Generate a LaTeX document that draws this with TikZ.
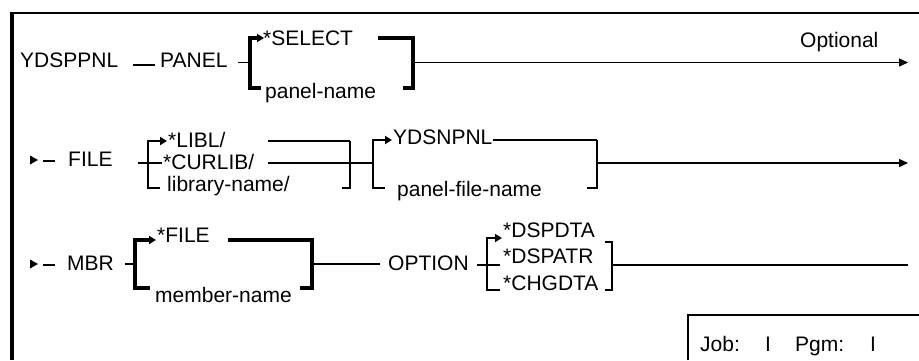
\documentclass[tikz,border=0pt]{standalone}
\usepackage{fontspec}
\setmainfont{Liberation Sans}
\usetikzlibrary{arrows.meta}
\begin{document}
\begin{tikzpicture}[x=1pt,y=-1pt,
  txt/.style={anchor=base west,inner sep=0pt,font=\fontsize{21}{25}\selectfont},
  ln/.style={line width=1.4pt},
  brk/.style={line width=3.4pt,line join=miter},
  brkm/.style={line width=2.3pt,line join=miter},
  tipend/.style={-{Triangle[length=9pt,width=8pt]}},
  smalltip/.style={-{Triangle[length=7pt,width=8pt]}}
  ]
\useasboundingbox (0,0) rectangle (919,360);
% frame
\draw[line width=1.5pt] (10,13) -- (919,13);
\draw[line width=3.6pt] (12,12) -- (12,360);

% ---------- row 1 ----------
\node[txt] (ydsppnl) at (20,67) {YDSPPNL};
\node[txt] (panel) at (160,67) {PANEL};
\node[txt] (select) at (263,45) {*SELECT};
\node[txt] (panelname) at (265,98) {panel-name};
\node[txt] (optional) at (800,47) {Optional};
\coordinate (d1a) at (133,65); \coordinate (d1b) at (155,65);
\draw[ln] (d1a) -- (d1b);
\coordinate (p1) at (238,62.5); \coordinate (l1m) at (250,62.5);
\draw[ln] (p1) -- (l1m);
\coordinate (l1b) at (261,88); \coordinate (l1bl) at (250,88);
\coordinate (l1tl) at (250,38); \coordinate (l1t) at (264,38);
\draw[brk,smalltip] (l1b) -- (l1bl) -- (l1tl) -- (l1t);
\coordinate (r1t) at (378,38); \coordinate (r1tr) at (413,38);
\coordinate (r1br) at (413,88); \coordinate (r1b) at (403,88);
\draw[brk] (r1t) -- (r1tr) -- (r1br) -- (r1b);
\coordinate (r1m) at (413,62.5); \coordinate (e1) at (908,62.5);
\draw[ln,tipend] (r1m) -- (e1);

% ---------- row 2 ----------
\coordinate (s2) at (30,160);
\fill (30,155.5) -- (38,160) -- (30,164.5) -- cycle;
\node[txt] (file) at (68,166) {FILE};
\coordinate (d2a) at (43,161); \coordinate (d2b) at (55,161);
\draw[ln] (d2a) -- (d2b);
\node[txt] (libl) at (168,147) {*LIBL/};
\node[txt] (curlib) at (163,169) {*CURLIB/};
\node[txt] (libname) at (167,191) {library-name/};
\coordinate (p2a) at (138,163); \coordinate (p2b) at (162,163);
\draw[ln] (p2a) -- (p2b);
\coordinate (l2b) at (160,188); \coordinate (l2bl) at (148,188);
\coordinate (l2tl) at (148,141); \coordinate (l2t) at (167,141);
\draw[brkm,smalltip] (l2b) -- (l2bl) -- (l2tl) -- (l2t);
\coordinate (a2) at (268,141); \coordinate (r2t) at (350,141);
\coordinate (b2) at (268,163); \coordinate (r2m) at (350,163);
\draw[ln] (a2) -- (r2t);
\draw[ln] (b2) -- (r2m);
\coordinate (r2br) at (350,188); \coordinate (r2b) at (342,188);
\draw[brkm] (r2t) -- (r2br) -- (r2b);
\coordinate (l3m) at (373,163);
\draw[ln] (r2m) -- (l3m);
\node[txt] (ydsnpnl) at (393,144) {YDSNPNL};
\node[txt] (pfname) at (397,196) {panel-file-name};
\coordinate (l3b) at (385,188); \coordinate (l3bl) at (373,188);
\coordinate (l3tl) at (373,140); \coordinate (l3t) at (392,140);
\draw[brkm,smalltip] (l3b) -- (l3bl) -- (l3tl) -- (l3t);
\coordinate (y3) at (493,140); \coordinate (r3t) at (597,140);
\coordinate (r3br) at (597,188); \coordinate (r3b) at (587,188);
\draw[ln] (y3) -- (r3t);
\draw[brkm] (r3t) -- (r3br) -- (r3b);
\coordinate (r3m) at (597,163); \coordinate (e2) at (908,163);
\draw[ln,tipend] (r3m) -- (e2);

% ---------- row 3 ----------
\fill (30,259.5) -- (38,264) -- (30,268.5) -- cycle;
\coordinate (d3a) at (43,265); \coordinate (d3b) at (55,265);
\draw[ln] (d3a) -- (d3b);
\node[txt] (mbr) at (67,270) {MBR};
\coordinate (p3a) at (125,264); \coordinate (l4m) at (135,264);
\draw[ln] (p3a) -- (l4m);
\node[txt] (sfile) at (157,242) {*FILE};
\node[txt] (mname) at (155,302) {member-name};
\coordinate (l4b) at (150,288); \coordinate (l4bl) at (135,288);
\coordinate (l4tl) at (135,240); \coordinate (l4t) at (156,240);
\draw[brk,smalltip] (l4b) -- (l4bl) -- (l4tl) -- (l4t);
\coordinate (f4) at (228,240); \coordinate (r4t) at (312,240);
\coordinate (r4br) at (312,288); \coordinate (r4b) at (300,288);
\draw[brk] (f4) -- (r4t) -- (r4br) -- (r4b);
\coordinate (r4m) at (312,264); \coordinate (o4) at (380,264);
\draw[ln] (r4m) -- (o4);
\node[txt] (option) at (388,270) {OPTION};
\node[txt] (dspdta) at (503,237) {*DSPDTA};
\node[txt] (dspatr) at (503,263) {*DSPATR};
\node[txt] (chgdta) at (503,290) {*CHGDTA};
\coordinate (p5a) at (477,265); \coordinate (p5b) at (500,265);
\draw[ln] (p5a) -- (p5b);
\coordinate (l5b) at (500,290); \coordinate (l5bl) at (487,290);
\coordinate (l5tl) at (487,238); \coordinate (l5t) at (502,238);
\draw[brkm,smalltip] (l5b) -- (l5bl) -- (l5tl) -- (l5t);
\coordinate (r5t) at (605,242); \coordinate (r5tr) at (612,242);
\coordinate (r5br) at (612,290); \coordinate (r5b) at (605,290);
\draw[brkm] (r5t) -- (r5tr) -- (r5br) -- (r5b);
\coordinate (r5m) at (612,265); \coordinate (e3) at (908,265);
\draw[ln] (r5m) -- (e3);

% ---------- job box ----------
\draw[line width=2.6pt] (688,360) -- (688,315);
\draw[line width=1.5pt] (687,315) -- (919,315);
\node[txt] (job) at (700,351) {Job:};
\node[txt] (jobi) at (765,351) {I};
\node[txt] (pgm) at (795,351) {Pgm:};
\node[txt] (pgmi) at (870,351) {I};
\end{tikzpicture}
\end{document}
